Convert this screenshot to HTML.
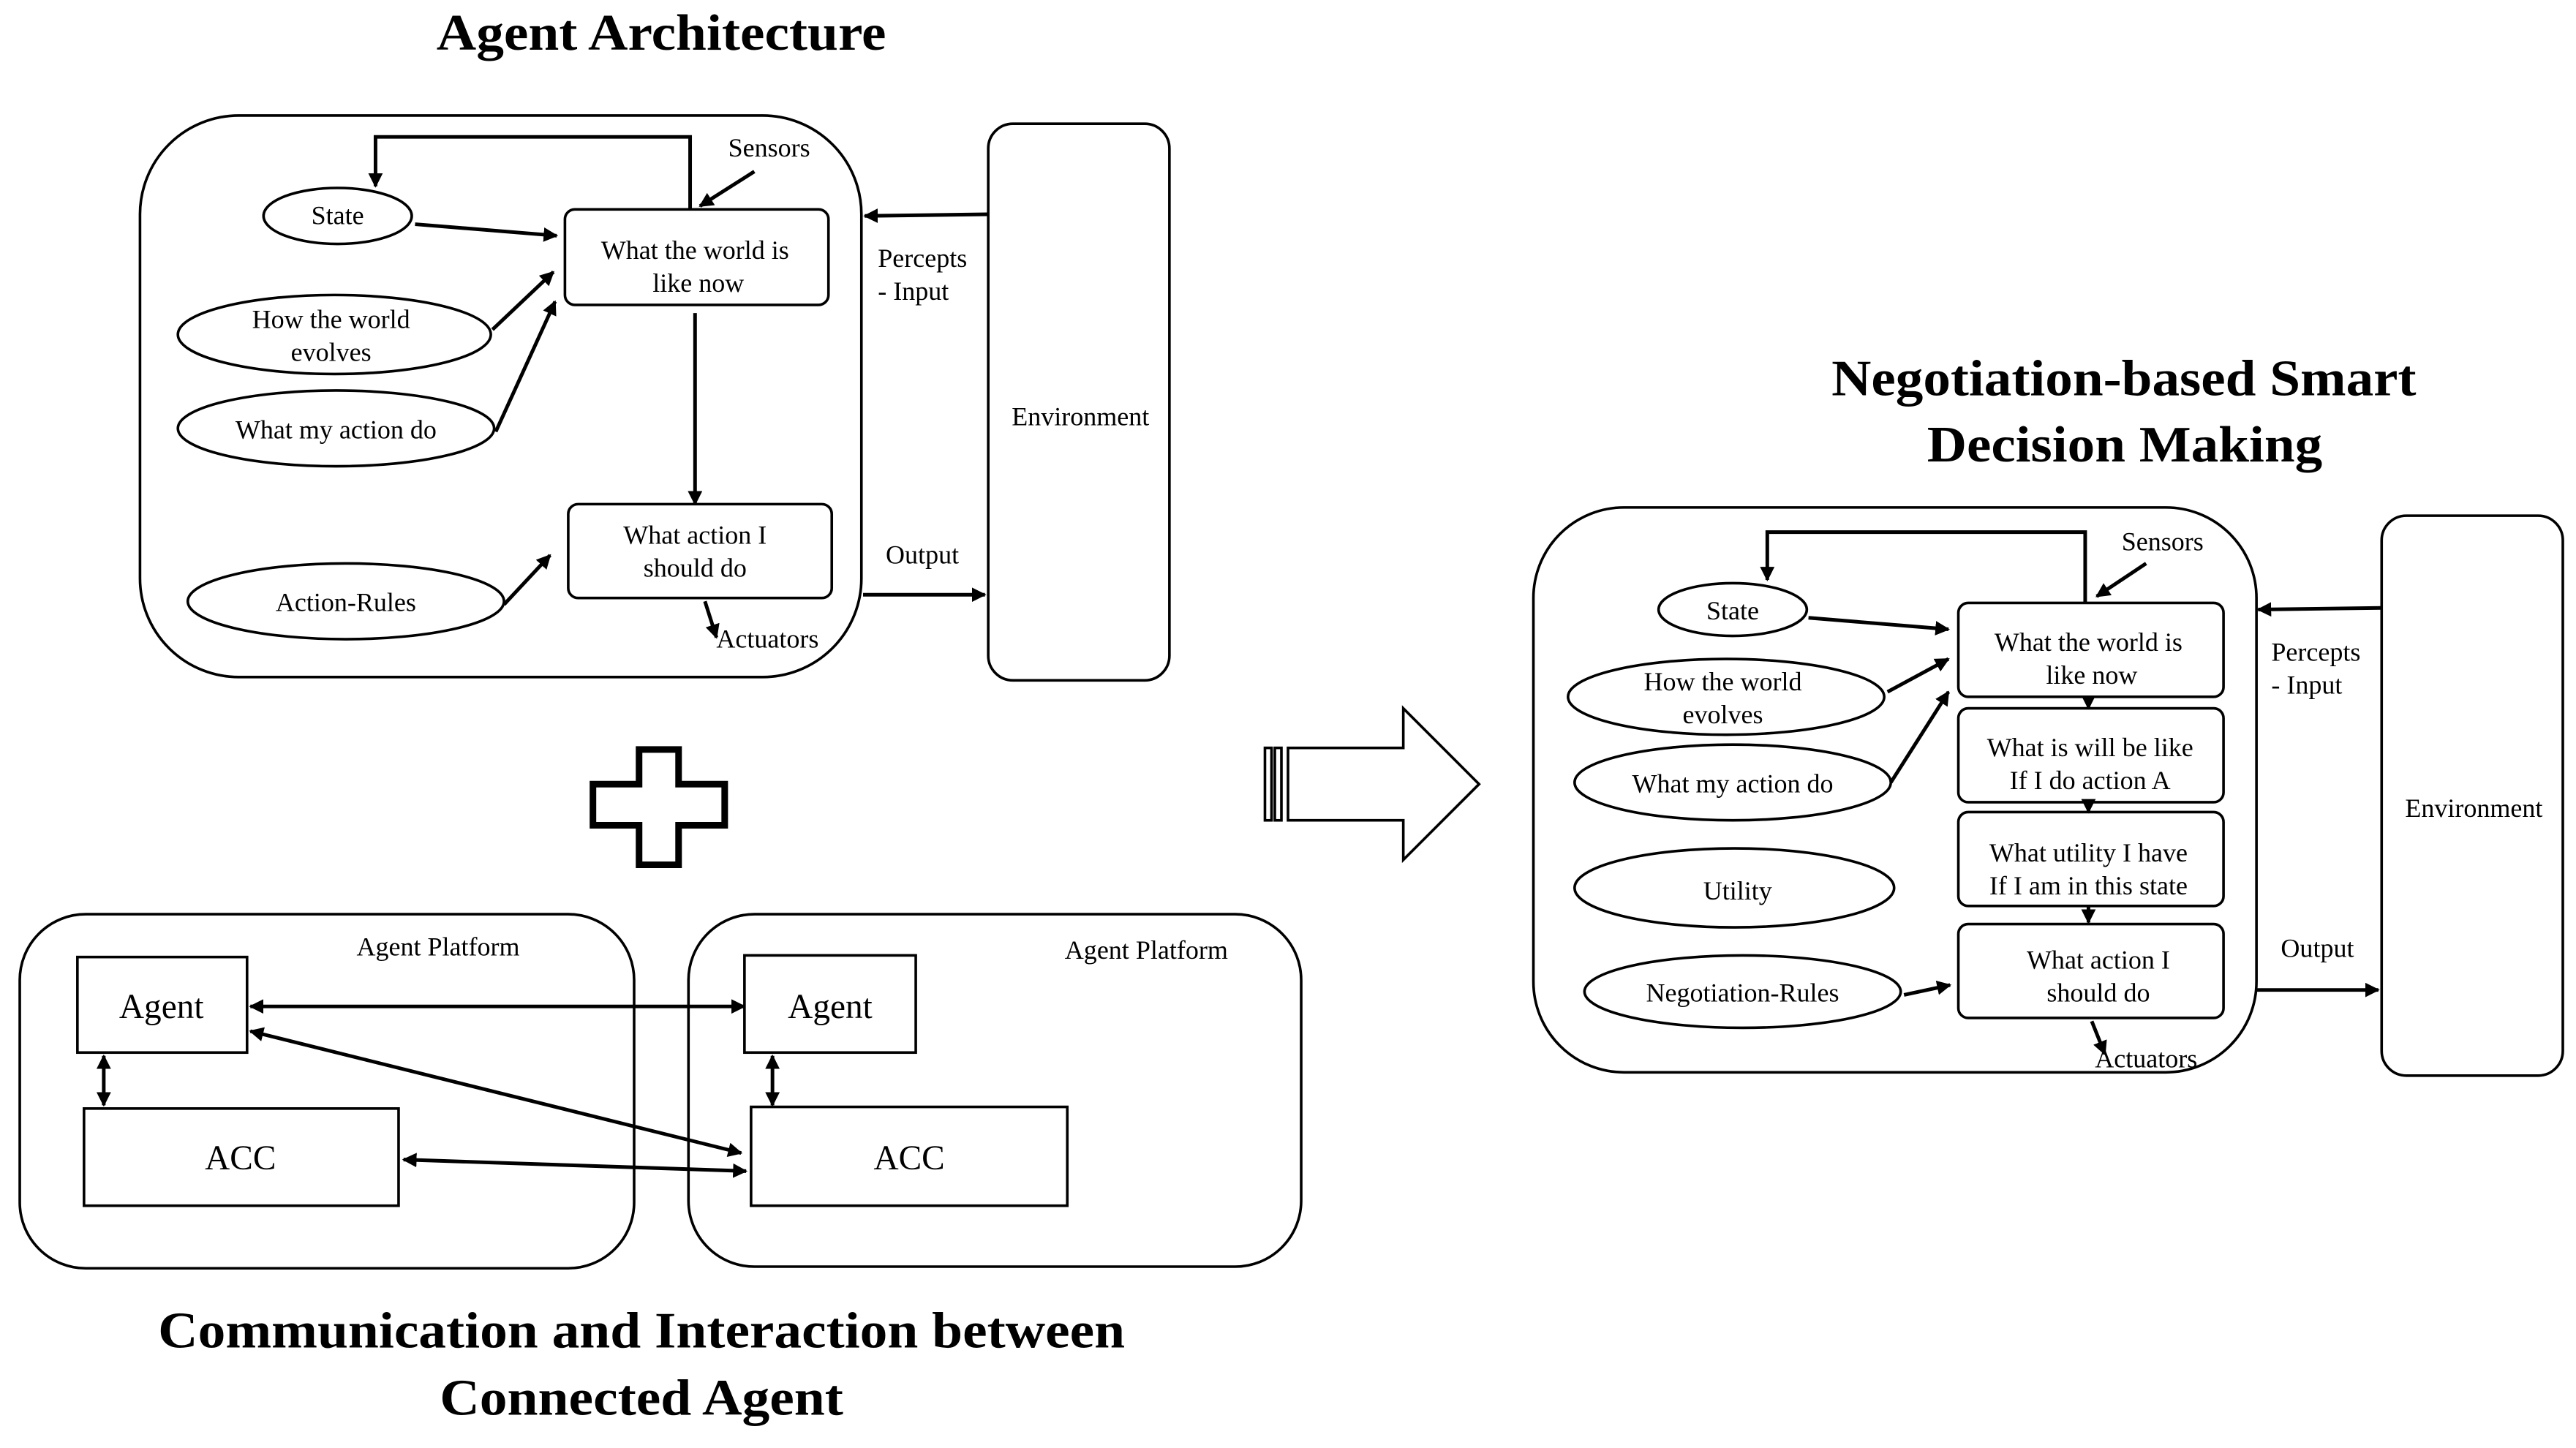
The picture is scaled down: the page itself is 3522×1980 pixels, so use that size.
<!DOCTYPE html>
<html><head><meta charset="utf-8"><style>html,body{margin:0;padding:0;background:#fff}svg{display:block}</style></head>
<body>
<svg width="3522" height="1980" viewBox="0 0 1564 879" xmlns="http://www.w3.org/2000/svg" font-family="'Liberation Serif', serif">
<defs>
<marker id="a" viewBox="0 0 10 10" refX="9" refY="5" markerWidth="4" markerHeight="4" orient="auto-start-reverse"><path d="M0,0L10,5L0,10z" fill="#000"/></marker>
</defs>
<g fill="none" stroke="#000" stroke-width="1.6">
<rect x="85" y="70" width="438" height="341" rx="60"/>
<rect x="600" y="75" width="110" height="338" rx="15"/>
<ellipse cx="205" cy="131" rx="45" ry="17"/>
<ellipse cx="203" cy="203" rx="95" ry="24"/>
<ellipse cx="204" cy="260" rx="96" ry="23"/>
<ellipse cx="210" cy="365" rx="96" ry="23"/>
<rect x="343" y="127" width="160" height="58" rx="6"/>
<rect x="345" y="306" width="160" height="57" rx="6"/>
</g>
<g fill="none" stroke="#000" stroke-width="2.2" marker-end="url(#a)">
<path d="M419,127V83H228V113"/>
<path d="M458,104L425,125"/>
<path d="M252,136L338,143"/>
<path d="M299,200L336,165"/>
<path d="M301,262L337,183"/>
<path d="M422,190V306"/>
<path d="M306,367L334,337"/>
<path d="M428,365L435,387"/>
<path d="M600,130L525,131"/>
<path d="M524,361L598,361"/>
</g>
<g font-size="16" text-anchor="middle">
<text x="265" y="30" font-size="31" font-weight="bold" text-anchor="start" textLength="273" lengthAdjust="spacingAndGlyphs">Agent Architecture</text>
<text x="205" y="136">State</text>
<text x="201" y="199">How the world</text><text x="201" y="219">evolves</text>
<text x="204" y="266">What my action do</text>
<text x="210" y="371">Action-Rules</text>
<text x="422" y="157">What the world is</text><text x="424" y="177">like now</text>
<text x="422" y="330">What action I</text><text x="422" y="350">should do</text>
<text x="467" y="95">Sensors</text>
<text x="466" y="393">Actuators</text>
<text x="533" y="162" text-anchor="start">Percepts</text>
<text x="533" y="182" text-anchor="start">- Input</text>
<text x="560" y="342">Output</text>
<text x="656" y="258">Environment</text>
</g>
<path d="M388,455H412V476H440V501H412V525H388V501H360V476H388Z" fill="none" stroke="#000" stroke-width="4"/>
<g fill="none" stroke="#000" stroke-width="1.6">
<path d="M782,454H852V430L898,476L852,522V498H782Z"/>
<rect x="768" y="454" width="4" height="44"/><rect x="774" y="454" width="4" height="44"/>
</g>
<g fill="none" stroke="#000" stroke-width="1.6">
<rect x="12" y="555" width="373" height="215" rx="40"/>
<rect x="418" y="555" width="372" height="214" rx="40"/>
<rect x="47" y="581" width="103" height="58"/>
<rect x="51" y="673" width="191" height="59"/>
<rect x="452" y="580" width="104" height="59"/>
<rect x="456" y="672" width="192" height="60"/>
</g>
<g fill="none" stroke="#000" stroke-width="2.2" marker-end="url(#a)" marker-start="url(#a)">
<path d="M152,611H452"/>
<path d="M152,626L450,700"/>
<path d="M245,704L453,711"/>
<path d="M63,641V671"/>
<path d="M469,641V671"/>
</g>
<g font-size="16" text-anchor="middle">
<text x="266" y="580">Agent Platform</text>
<text x="696" y="582">Agent Platform</text>
<text x="98" y="618" font-size="21">Agent</text>
<text x="146" y="710" font-size="21">ACC</text>
<text x="504" y="618" font-size="21">Agent</text>
<text x="552" y="710" font-size="21">ACC</text>
<text x="96" y="818" font-size="31" font-weight="bold" text-anchor="start" textLength="587" lengthAdjust="spacingAndGlyphs">Communication and Interaction between</text>
<text x="267" y="859" font-size="31" font-weight="bold" text-anchor="start" textLength="245" lengthAdjust="spacingAndGlyphs">Connected Agent</text>
</g>
<g fill="none" stroke="#000" stroke-width="1.6">
<rect x="931" y="308" width="439" height="343" rx="55"/>
<rect x="1446" y="313" width="110" height="340" rx="15"/>
<ellipse cx="1052" cy="370" rx="45" ry="16"/>
<ellipse cx="1048" cy="423" rx="96" ry="23"/>
<ellipse cx="1052" cy="475" rx="96" ry="23"/>
<ellipse cx="1053" cy="539" rx="97" ry="24"/>
<ellipse cx="1058" cy="602" rx="96" ry="22"/>
<rect x="1189" y="366" width="161" height="57" rx="6"/>
<rect x="1189" y="430" width="161" height="57" rx="6"/>
<rect x="1189" y="493" width="161" height="57" rx="6"/>
<rect x="1189" y="561" width="161" height="57" rx="6"/>
</g>
<g fill="none" stroke="#000" stroke-width="2.2" marker-end="url(#a)">
<path d="M1266,366V323H1073V352"/>
<path d="M1303,342L1273,362"/>
<path d="M1098,375L1183,382"/>
<path d="M1146,420L1183,400"/>
<path d="M1148,475L1183,420"/>
<path d="M1156,604L1184,598"/>
<path d="M1268,423V430"/>
<path d="M1268,487V493"/>
<path d="M1268,550V560"/>
<path d="M1270,620L1278,640"/>
<path d="M1446,369L1371,370"/>
<path d="M1370,601L1444,601"/>
</g>
<g font-size="16" text-anchor="middle">
<text x="1112" y="240" font-size="31" font-weight="bold" text-anchor="start" textLength="355" lengthAdjust="spacingAndGlyphs">Negotiation-based Smart</text>
<text x="1170" y="280" font-size="31" font-weight="bold" text-anchor="start" textLength="240" lengthAdjust="spacingAndGlyphs">Decision Making</text>
<text x="1052" y="376">State</text>
<text x="1046" y="419">How the world</text><text x="1046" y="439">evolves</text>
<text x="1052" y="481">What my action do</text>
<text x="1055" y="546">Utility</text>
<text x="1058" y="608">Negotiation-Rules</text>
<text x="1268" y="395">What the world is</text><text x="1270" y="415">like now</text>
<text x="1269" y="459">What is will be like</text><text x="1269" y="479">If I do action A</text>
<text x="1268" y="523">What utility I have</text><text x="1268" y="543">If I am in this state</text>
<text x="1274" y="588">What action I</text><text x="1274" y="608">should do</text>
<text x="1313" y="334">Sensors</text>
<text x="1303" y="648">Actuators</text>
<text x="1379" y="401" text-anchor="start">Percepts</text>
<text x="1379" y="421" text-anchor="start">- Input</text>
<text x="1407" y="581">Output</text>
<text x="1502" y="496">Environment</text>
</g>
</svg>
</body></html>
